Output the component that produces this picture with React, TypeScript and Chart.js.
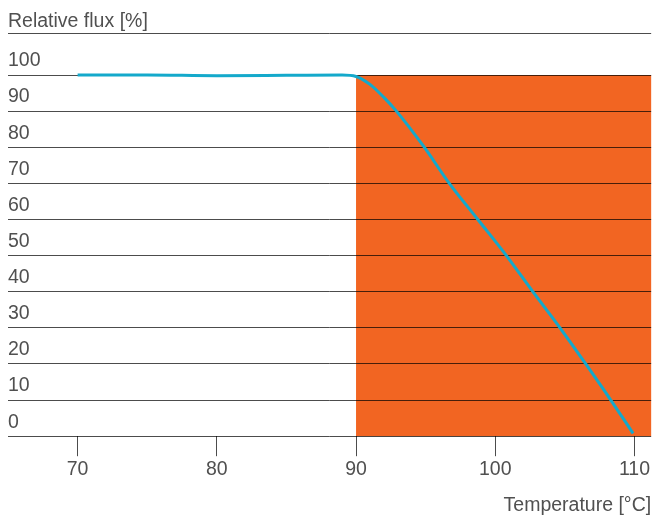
import React, { useEffect, useRef } from "react";
import { Chart, registerables } from "chart.js";

Chart.register(...registerables);

const temperatures = [70, 75, 80, 85, 89, 90, 91, 92, 92.9, 94.9, 96.7, 98.75, 100.8, 102.7, 104.65, 106.5, 108.3, 109.9];
const fluxValues = [100, 100, 99.8, 99.9, 100, 99.6, 97.4, 93.8, 90, 80, 70, 60, 50, 40, 30, 20, 10, 0.8];
const xTickValues = [70, 80, 90, 100, 110];
const zoneStart = 90;
const zoneTop = 100;
const zoneBottom = 0;
const yTitle = "Relative flux [%]";
const xTitle = "Temperature [°C]";

const TEXT = "#505050";
const FONT = "Liberation Sans, Arial, sans-serif";
const FS = 19.5;

export default function App() {
  const ref = useRef<HTMLCanvasElement | null>(null);
  useEffect(() => {
    if (!ref.current) return;
    const zonePlugin = {
      id: "zone",
      beforeDraw(chart: any) {
        const { ctx, chartArea, scales } = chart;
        const x0 = scales.x.getPixelForValue(zoneStart);
        const yT = scales.y.getPixelForValue(zoneTop);
        const yB = scales.y.getPixelForValue(zoneBottom);
        ctx.save();
        ctx.fillStyle = "#f26522";
        ctx.fillRect(x0, yT, chartArea.right - x0, yB - yT);
        ctx.fillStyle = TEXT;
        ctx.font = `${FS}px ${FONT}`;
        ctx.textBaseline = "alphabetic";
        ctx.textAlign = "left";
        ctx.fillText(yTitle, chartArea.left, 27);
        ctx.strokeStyle = "rgba(0,0,0,0.7)";
        ctx.lineWidth = 1;
        ctx.beginPath();
        ctx.moveTo(chartArea.left, 33.5);
        ctx.lineTo(chartArea.right, 33.5);
        ctx.stroke();
        ctx.restore();
      },
    };
    const chart = new Chart(ref.current, {
      type: "line",
      data: {
        datasets: [
          {
            data: temperatures.map((t, i) => ({ x: t, y: fluxValues[i] })),
            borderColor: "#14a9cb",
            borderWidth: 3,
            pointRadius: 0,
            cubicInterpolationMode: "monotone",
            clip: false as any,
          },
        ],
      },
      options: {
        responsive: false,
        animation: false,
        layout: { padding: { left: 8, right: 0, top: 75, bottom: 0 } },
        plugins: { legend: { display: false }, tooltip: { enabled: false } },
        scales: {
          x: {
            type: "linear",
            min: 65,
            max: 111.2,
            afterBuildTicks: (axis: any) => {
              axis.ticks = xTickValues.map((v) => ({ value: v }));
            },
            border: { display: false },
            grid: {
              drawOnChartArea: false,
              drawTicks: true,
              tickLength: 20,
              color: "rgba(0,0,0,0.7)",
            },
            ticks: {
              color: TEXT,
              font: { family: FONT, size: FS },
              padding: 2,
              maxRotation: 0,
              autoSkip: false,
            },
            title: {
              display: true,
              text: xTitle,
              align: "end",
              color: TEXT,
              font: { family: FONT, size: FS },
              padding: { top: 10, bottom: 0 },
            },
          },
          y: {
            min: 0,
            max: 100,
            border: { display: false },
            grid: { drawTicks: false, color: "rgba(0,0,0,0.7)", lineWidth: 1 },
            ticks: {
              stepSize: 10,
              mirror: true,
              padding: 0,
              labelOffset: -14,
              color: TEXT,
              font: { family: FONT, size: FS },
            },
          },
        },
      },
      plugins: [zonePlugin],
    });
    return () => chart.destroy();
  }, []);
  return (
    <div style={{ position: "fixed", left: 0, top: 0, width: 652, height: 517, background: "#fff" }}>
      <canvas ref={ref} width={652} height={517} style={{ display: "block" }} />
    </div>
  );
}
